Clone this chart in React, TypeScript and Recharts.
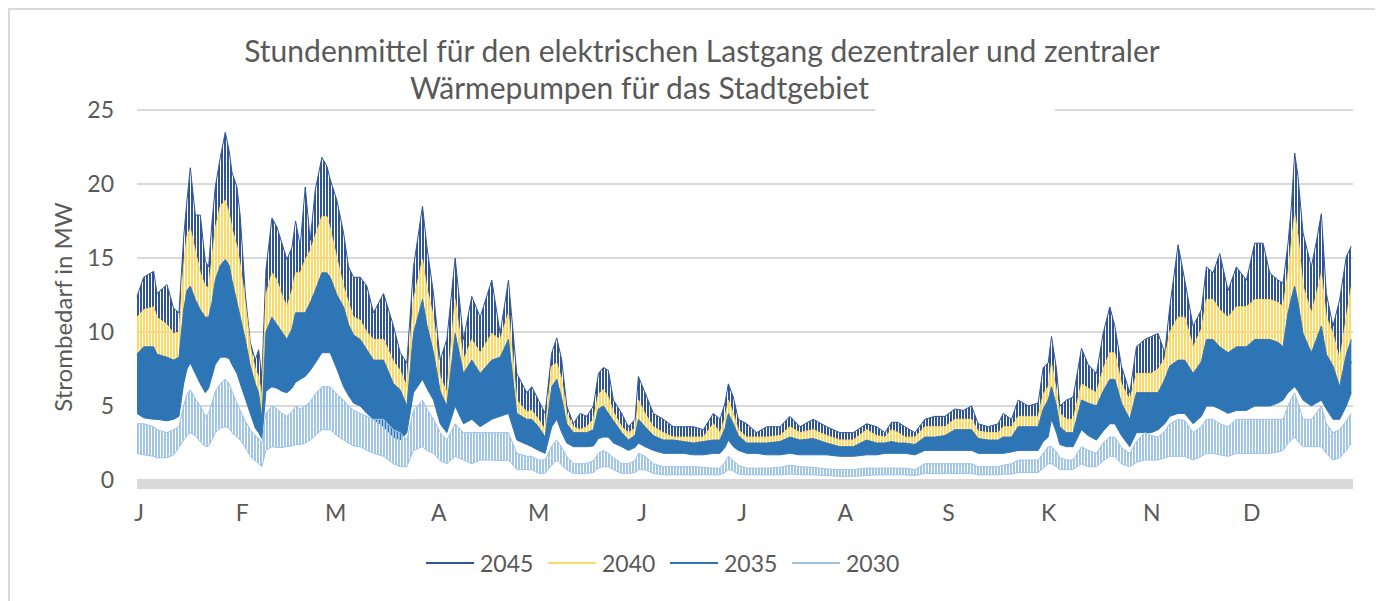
import React from 'react';
import { ComposedChart, Area, XAxis, YAxis, CartesianGrid, Legend } from 'recharts';

// day of year (0 = 1 Jan) at which the envelope was read
const days = [
  0, 2, 5, 6, 9, 11, 12.6, 14, 15, 16,
  17.5, 19, 20.5, 21.5, 22.5, 23.5, 25, 26.5, 27.7, 28.5,
  30, 31, 32.5, 34, 35.5, 36.5, 37.5, 38.7, 40.5, 42,
  43.5, 45, 46.5, 47.6, 49, 50.5, 52, 53.5, 55.5, 57,
  58, 60, 62, 63.5, 65, 67, 69, 71, 74, 77,
  79, 81, 83, 85.7, 87, 89, 91, 93, 95.5, 98,
  100.5, 103, 106.5, 109, 111.5, 114, 117, 118.5, 120.5, 122.5,
  124.5, 126, 127.5, 129, 131, 133, 135, 137, 138.5, 140,
  141.5, 143, 145.5, 147.5, 149.5, 150.5, 152.5, 155, 158, 161,
  164, 167, 170, 173, 175, 176.5, 177.5, 179, 180.5, 183,
  186, 189, 193, 196, 199, 203, 207, 211, 215, 219,
  222, 224.5, 226.5, 228.5, 230.5, 233.5, 236.5, 239.5, 242.5, 245.5,
  248, 250.5, 252.5, 255.5, 258.5, 260, 262.5, 264.5, 267.5, 270.5,
  272, 273.5, 274.5, 276, 277, 279, 281, 283.5, 285.5, 288,
  290, 292, 293.5, 295.5, 298, 300, 302.5, 304.5, 306.5, 308.5,
  310, 312.5, 314.5, 317, 319.5, 321, 323, 325, 327.5, 330,
  333, 335.5, 338, 340, 342.5, 344, 345.5, 346.5, 347.5, 348.5,
  350, 352.5, 354, 355.5, 357, 359, 361, 363, 364.5,
];

// daily peaks / troughs in MW
const hi2045 = [
  12.4, 13.7, 14.1, 12.6, 13.2, 11.6, 11.3, 16.4, 18.9, 21.1,
  17.9, 17.9, 14.8, 14.4, 17.4, 19.8, 21.8, 23.5, 22.2, 20.8,
  19.8, 17.8, 12.6, 9.3, 8.1, 8.8, 7.0, 14.2, 17.7, 17.1,
  16.0, 14.9, 15.7, 17.5, 15.8, 19.8, 16.2, 19.6, 21.8, 21.2,
  20.3, 18.9, 16.7, 14.4, 13.7, 13.7, 13.1, 11.3, 12.6, 10.4,
  8.6, 7.9, 14.4, 18.5, 15.8, 12.6, 8.1, 9.5, 15.0, 9.5,
  12.4, 11.0, 13.5, 9.9, 13.5, 7.2, 5.9, 6.3, 5.4, 4.5,
  8.6, 9.6, 8.1, 5.0, 3.8, 4.5, 4.3, 5.0, 7.2, 7.6,
  7.4, 5.4, 4.5, 3.6, 4.1, 7.0, 5.9, 4.5, 4.1, 3.6,
  3.6, 3.6, 3.4, 4.5, 4.1, 5.2, 6.5, 5.6, 4.1, 3.8,
  3.2, 3.6, 3.6, 4.3, 3.6, 4.1, 3.6, 3.2, 3.2, 3.8,
  3.6, 3.2, 3.9, 3.9, 3.6, 3.2, 4.1, 4.3, 4.3, 4.8,
  4.7, 5.0, 3.8, 3.6, 3.8, 4.5, 4.1, 5.4, 5.0, 5.2,
  7.6, 7.9, 9.7, 7.5, 5.0, 5.4, 5.6, 8.9, 7.8, 7.2,
  9.9, 11.7, 10.4, 7.7, 5.9, 9.0, 9.5, 9.7, 9.9, 8.6,
  11.7, 15.9, 13.5, 10.4, 11.5, 14.4, 14.0, 15.3, 12.8, 14.4,
  13.5, 16.0, 16.0, 14.0, 13.5, 13.3, 16.0, 18.5, 22.1, 20.5,
  16.7, 14.4, 16.1, 18.0, 12.6, 10.4, 12.2, 15.1, 15.8,
];
const lo2045 = [
  6.1, 5.7, 5.5, 5.5, 5.4, 5.5, 5.8, 8.8, 10.1, 10.7,
  9.7, 8.8, 8.0, 8.4, 9.5, 10.5, 11.2, 11.2, 11.1, 10.5,
  9.7, 8.8, 7.4, 6.1, 4.7, 4.3, 3.8, 8.1, 8.5, 8.4,
  8.1, 8.0, 8.4, 8.9, 9.2, 9.5, 10.0, 10.7, 11.6, 11.6,
  11.6, 10.1, 8.5, 7.7, 7.0, 6.8, 6.1, 5.5, 4.9, 3.9,
  3.6, 4.3, 8.0, 9.2, 8.4, 7.3, 5.1, 4.3, 6.8, 5.1,
  5.5, 4.9, 5.5, 5.8, 6.1, 3.6, 3.2, 3.0, 2.7, 2.4,
  4.9, 5.5, 4.3, 3.4, 3.0, 3.0, 3.0, 3.1, 3.8, 3.9,
  3.9, 3.4, 3.0, 2.7, 3.0, 3.4, 3.0, 2.7, 2.4, 2.4,
  2.4, 2.3, 2.3, 2.4, 2.4, 3.0, 3.6, 3.0, 2.7, 2.4,
  2.4, 2.3, 2.3, 2.4, 2.3, 2.3, 2.3, 2.2, 2.2, 2.3,
  2.3, 2.4, 2.4, 2.4, 2.4, 2.3, 2.7, 2.7, 2.7, 2.7,
  2.7, 2.7, 2.4, 2.4, 2.4, 2.4, 2.6, 2.7, 2.7, 2.7,
  3.5, 3.9, 5.5, 4.3, 3.2, 3.0, 3.0, 4.6, 4.1, 3.6,
  4.5, 5.1, 5.1, 4.1, 3.0, 4.3, 4.3, 4.3, 4.6, 5.1,
  5.8, 6.1, 6.1, 5.1, 5.8, 6.8, 6.8, 6.5, 6.1, 6.3,
  6.3, 6.8, 6.8, 6.8, 7.0, 7.3, 8.0, 8.2, 8.5, 8.1,
  7.3, 6.8, 7.0, 7.3, 6.5, 5.5, 5.5, 6.8, 8.0,
];

const hi2040 = [
  11.0, 11.5, 11.7, 11.0, 10.5, 9.9, 10.0, 14.5, 16.5, 17.0,
  15.5, 14.0, 13.1, 13.0, 15.0, 17.0, 18.5, 18.9, 18.0, 17.0,
  15.8, 14.5, 12.0, 9.0, 7.5, 7.0, 5.6, 12.5, 14.0, 13.5,
  12.5, 11.7, 12.8, 14.0, 14.0, 14.9, 15.5, 16.5, 17.8, 17.8,
  17.0, 15.0, 13.1, 12.0, 11.0, 10.8, 10.0, 9.5, 9.5, 8.0,
  7.4, 6.3, 12.2, 14.9, 13.0, 11.0, 7.0, 5.9, 12.2, 8.1,
  9.5, 8.6, 9.9, 9.5, 11.3, 5.4, 4.6, 4.7, 4.1, 3.4,
  7.7, 7.9, 6.8, 4.5, 3.6, 3.4, 3.6, 4.1, 5.8, 6.1,
  5.6, 4.6, 3.6, 3.2, 3.5, 5.4, 4.5, 3.6, 3.2, 2.9,
  2.9, 2.9, 2.9, 3.8, 3.2, 4.2, 5.4, 4.5, 3.4, 2.9,
  2.9, 2.9, 3.0, 3.6, 3.2, 3.4, 3.0, 2.7, 2.7, 3.4,
  3.0, 2.9, 3.4, 3.2, 2.9, 2.9, 3.6, 3.6, 3.6, 4.1,
  4.1, 4.1, 3.3, 3.2, 3.2, 3.6, 3.6, 4.3, 4.3, 4.3,
  5.8, 6.3, 7.9, 6.0, 4.5, 4.1, 4.1, 6.5, 6.2, 5.9,
  7.5, 8.6, 8.6, 6.5, 5.4, 7.2, 7.2, 7.2, 7.5, 8.2,
  10.0, 11.0, 11.0, 9.0, 10.2, 12.2, 12.2, 11.5, 11.0, 11.7,
  11.7, 12.2, 12.2, 12.2, 12.0, 11.7, 14.0, 16.0, 18.0, 16.5,
  13.1, 11.3, 12.5, 14.0, 11.0, 9.9, 8.1, 11.0, 13.1,
];
const lo2040 = [
  5.2, 4.8, 4.7, 4.7, 4.6, 4.7, 4.9, 7.5, 8.6, 9.1,
  8.3, 7.5, 6.8, 7.1, 8.1, 9.0, 9.5, 9.5, 9.4, 9.0,
  8.3, 7.5, 6.3, 5.2, 4.0, 3.7, 3.2, 6.9, 7.2, 7.1,
  6.9, 6.8, 7.1, 7.6, 7.8, 8.1, 8.5, 9.1, 9.9, 9.9,
  9.9, 8.6, 7.2, 6.6, 6.0, 5.8, 5.2, 4.7, 4.1, 3.3,
  3.1, 3.7, 6.8, 7.8, 7.1, 6.2, 4.4, 3.7, 5.8, 4.4,
  4.7, 4.1, 4.7, 4.9, 5.2, 3.1, 2.8, 2.6, 2.3, 2.1,
  4.1, 4.7, 3.7, 2.9, 2.6, 2.6, 2.6, 2.6, 3.2, 3.3,
  3.3, 2.9, 2.6, 2.3, 2.5, 2.9, 2.6, 2.3, 2.1, 2.1,
  2.1, 2.0, 2.0, 2.1, 2.1, 2.5, 3.1, 2.6, 2.3, 2.1,
  2.1, 2.0, 2.0, 2.1, 2.0, 2.0, 2.0, 1.8, 1.8, 2.0,
  2.0, 2.1, 2.1, 2.1, 2.1, 2.0, 2.3, 2.3, 2.3, 2.3,
  2.3, 2.3, 2.1, 2.1, 2.1, 2.1, 2.2, 2.3, 2.3, 2.3,
  3.0, 3.3, 4.7, 3.7, 2.8, 2.6, 2.6, 3.9, 3.5, 3.1,
  3.8, 4.4, 4.4, 3.5, 2.6, 3.7, 3.7, 3.7, 3.9, 4.4,
  4.9, 5.2, 5.2, 4.4, 4.9, 5.8, 5.8, 5.5, 5.2, 5.4,
  5.4, 5.8, 5.8, 5.8, 6.0, 6.2, 6.8, 7.0, 7.2, 6.9,
  6.2, 5.8, 6.0, 6.2, 5.5, 4.7, 4.7, 5.8, 6.8,
];

const hi2035 = [
  8.5, 9.0, 9.0, 8.5, 8.3, 8.1, 8.3, 11.5, 12.8, 13.1,
  12.2, 11.5, 11.0, 11.0, 12.0, 13.5, 14.5, 14.9, 14.5, 13.5,
  12.0, 11.0, 9.5, 7.7, 6.5, 5.9, 4.1, 10.0, 11.0, 10.5,
  10.0, 9.5, 10.2, 11.3, 11.3, 11.3, 12.0, 12.8, 14.0, 14.0,
  13.7, 12.5, 11.7, 10.5, 9.8, 9.5, 8.8, 8.1, 8.1, 6.5,
  6.1, 5.0, 9.9, 12.2, 10.5, 8.6, 6.0, 5.0, 9.9, 7.2,
  8.1, 7.2, 8.1, 8.3, 9.5, 4.5, 4.1, 4.1, 3.6, 2.9,
  6.3, 6.8, 5.5, 3.8, 3.2, 3.2, 3.2, 3.4, 4.8, 5.0,
  4.5, 4.0, 3.2, 2.7, 3.0, 4.1, 3.6, 3.0, 2.7, 2.7,
  2.6, 2.5, 2.6, 2.7, 2.7, 3.5, 4.5, 3.8, 3.0, 2.5,
  2.5, 2.5, 2.6, 2.9, 2.7, 2.8, 2.5, 2.25, 2.25, 2.7,
  2.5, 2.5, 2.6, 2.5, 2.5, 2.4, 2.9, 2.9, 3.0, 3.4,
  3.4, 3.4, 2.8, 2.7, 2.7, 2.9, 2.9, 3.6, 3.6, 3.6,
  4.8, 5.4, 6.3, 5.0, 3.6, 3.2, 3.2, 5.4, 5.2, 5.0,
  6.0, 6.8, 6.8, 5.2, 4.1, 5.9, 5.9, 5.9, 5.9, 6.8,
  7.7, 8.1, 8.1, 7.2, 8.0, 9.5, 9.5, 9.0, 8.6, 9.0,
  9.0, 9.5, 9.5, 9.5, 9.3, 9.0, 11.3, 12.3, 13.1, 12.0,
  9.9, 8.6, 9.5, 10.4, 8.5, 7.7, 6.3, 8.5, 9.5,
];
const lo2035 = [
  4.5, 4.2, 4.1, 4.1, 4.0, 4.1, 4.3, 6.5, 7.5, 7.9,
  7.2, 6.5, 5.9, 6.2, 7.0, 7.8, 8.3, 8.3, 8.2, 7.8,
  7.2, 6.5, 5.5, 4.5, 3.5, 3.2, 2.8, 6.0, 6.3, 6.2,
  6.0, 5.9, 6.2, 6.6, 6.8, 7.0, 7.4, 7.9, 8.6, 8.6,
  8.6, 7.5, 6.3, 5.7, 5.2, 5.0, 4.5, 4.1, 3.6, 2.9,
  2.7, 3.2, 5.9, 6.8, 6.2, 5.4, 3.8, 3.2, 5.0, 3.8,
  4.1, 3.6, 4.1, 4.3, 4.5, 2.7, 2.4, 2.25, 2.0, 1.8,
  3.6, 4.1, 3.2, 2.5, 2.25, 2.25, 2.25, 2.3, 2.8, 2.9,
  2.9, 2.5, 2.25, 2.0, 2.2, 2.5, 2.25, 2.0, 1.8, 1.8,
  1.8, 1.7, 1.7, 1.8, 1.8, 2.2, 2.7, 2.25, 2.0, 1.8,
  1.8, 1.7, 1.7, 1.8, 1.7, 1.7, 1.7, 1.6, 1.6, 1.7,
  1.7, 1.8, 1.8, 1.8, 1.8, 1.7, 2.0, 2.0, 2.0, 2.0,
  2.0, 2.0, 1.8, 1.8, 1.8, 1.8, 1.9, 2.0, 2.0, 2.0,
  2.6, 2.9, 4.1, 3.2, 2.4, 2.25, 2.25, 3.4, 3.0, 2.7,
  3.3, 3.8, 3.8, 3.0, 2.25, 3.2, 3.2, 3.2, 3.4, 3.8,
  4.3, 4.5, 4.5, 3.8, 4.3, 5.0, 5.0, 4.8, 4.5, 4.7,
  4.7, 5.0, 5.0, 5.0, 5.2, 5.4, 5.9, 6.1, 6.3, 6.0,
  5.4, 5.0, 5.2, 5.4, 4.8, 4.1, 4.1, 5.0, 5.9,
];

const hi2030 = [
  3.8, 3.8, 3.6, 3.4, 3.2, 3.4, 3.6, 5.0, 5.8, 6.1,
  5.5, 5.0, 4.3, 4.5, 5.2, 6.0, 6.5, 6.8, 6.5, 6.0,
  5.2, 4.7, 4.0, 3.4, 3.0, 2.8, 2.5, 4.5, 5.0, 4.8,
  4.5, 4.3, 4.6, 5.0, 4.8, 5.0, 5.3, 5.8, 6.3, 6.3,
  6.3, 5.8, 5.4, 5.0, 4.7, 4.5, 4.3, 4.1, 4.1, 3.4,
  3.2, 2.7, 4.7, 5.4, 4.8, 4.1, 3.2, 2.7, 3.8, 3.2,
  3.2, 3.2, 3.2, 3.2, 3.2, 1.8, 1.6, 1.6, 1.35, 1.35,
  2.3, 2.7, 2.2, 1.6, 1.1, 1.1, 1.1, 1.3, 1.8, 2.0,
  1.8, 1.5, 1.1, 1.1, 1.3, 1.8, 1.6, 1.1, 0.9, 0.9,
  0.9, 0.9, 0.85, 0.8, 0.8, 1.2, 1.6, 1.3, 1.0, 0.8,
  0.8, 0.8, 0.85, 1.0, 0.9, 0.85, 0.75, 0.7, 0.7, 0.8,
  0.8, 0.8, 0.8, 0.8, 0.8, 0.7, 1.1, 1.1, 1.1, 1.1,
  1.1, 1.1, 0.9, 0.9, 0.9, 1.0, 1.1, 1.35, 1.35, 1.35,
  1.8, 2.25, 2.25, 1.9, 1.5, 1.35, 1.35, 2.25, 2.0, 1.8,
  2.5, 2.9, 2.9, 2.2, 1.8, 2.6, 3.2, 3.0, 2.9, 3.3,
  3.8, 4.1, 4.0, 3.2, 3.6, 4.1, 4.1, 3.8, 3.6, 4.1,
  4.1, 4.1, 4.1, 4.1, 4.1, 4.1, 5.0, 5.5, 5.9, 5.2,
  4.1, 4.1, 4.5, 5.0, 3.8, 3.2, 3.4, 4.0, 4.5,
];
const lo2030 = [
  1.8, 1.7, 1.6, 1.5, 1.5, 1.7, 2.2, 2.7, 3.0, 3.2,
  3.0, 2.6, 2.25, 2.3, 2.7, 3.2, 3.5, 3.6, 3.5, 3.2,
  2.9, 2.7, 2.2, 1.6, 1.3, 1.1, 0.9, 2.0, 2.25, 2.2,
  2.2, 2.25, 2.3, 2.4, 2.4, 2.5, 2.7, 3.0, 3.4, 3.4,
  3.4, 3.0, 2.7, 2.5, 2.3, 2.25, 2.0, 1.8, 1.6, 1.1,
  0.9, 0.9, 2.0, 2.25, 2.0, 1.8, 1.3, 1.1, 1.6, 1.35,
  1.1, 1.35, 1.35, 1.3, 1.35, 0.7, 0.7, 0.7, 0.45, 0.45,
  1.0, 1.35, 1.0, 0.7, 0.45, 0.45, 0.45, 0.5, 0.8, 0.9,
  0.9, 0.7, 0.45, 0.45, 0.5, 0.7, 0.7, 0.45, 0.35, 0.35,
  0.35, 0.35, 0.35, 0.35, 0.35, 0.5, 0.7, 0.6, 0.4, 0.35,
  0.35, 0.35, 0.35, 0.4, 0.35, 0.35, 0.3, 0.25, 0.25, 0.3,
  0.35, 0.35, 0.35, 0.35, 0.35, 0.3, 0.45, 0.45, 0.45, 0.45,
  0.45, 0.45, 0.35, 0.35, 0.35, 0.4, 0.4, 0.5, 0.5, 0.5,
  0.8, 1.1, 1.1, 0.9, 0.7, 0.7, 0.7, 1.1, 0.9, 0.9,
  1.3, 1.6, 1.6, 1.1, 0.9, 1.2, 1.35, 1.35, 1.35, 1.5,
  1.6, 1.6, 1.6, 1.35, 1.6, 1.8, 1.8, 1.7, 1.6, 1.8,
  1.8, 1.8, 1.8, 1.8, 1.9, 2.0, 2.5, 2.7, 2.9, 2.6,
  2.25, 2.25, 2.25, 2.25, 1.8, 1.35, 1.5, 2.0, 2.5,
];

const monthTicks = [0, 31, 59, 90, 120, 151, 181, 212, 243, 273, 304, 334];
const monthLabels = ['J', 'F', 'M', 'A', 'M', 'J', 'J', 'A', 'S', 'K', 'N', 'D'];
const yTicks = [0, 5, 10, 15, 20, 25];

// stripe = painted share of each 3px column (the rest lets the layer below show)
const series = [
  { key: 'r2045', name: '2045', color: '#2f5597', stripe: 2 },
  { key: 'r2040', name: '2040', color: '#ffd966', stripe: 2 },
  { key: 'r2035', name: '2035', color: '#2e75b6', stripe: 3 },
  { key: 'r2030', name: '2030', color: '#9dc3e6', stripe: 1.9 },
];

const data = days.map((day, i) => ({
  day,
  r2045: [lo2045[i], hi2045[i]],
  r2040: [lo2040[i], hi2040[i]],
  r2035: [lo2035[i], hi2035[i]],
  r2030: [lo2030[i], hi2030[i]],
}));

const FONT = 'Lato, "Open Sans", sans-serif';
const GREY = '#595959';

function LegendContent() {
  return (
    <div style={{ display: 'flex', alignItems: 'center', height: 36, fontFamily: FONT, fontSize: 23, color: GREY }}>
      {series.map((s) => (
        <div key={s.key} style={{ display: 'flex', alignItems: 'center', width: 122 }}>
          <span style={{ display: 'inline-block', width: 48, height: 2, background: s.color, marginRight: 6 }} />
          <span>{s.name}</span>
        </div>
      ))}
    </div>
  );
}

export default function App() {
  return (
    <div style={{ position: 'relative', width: 1375, height: 593, overflow: 'hidden', fontFamily: FONT }}>
      <div
        style={{
          position: 'absolute', left: 0, top: 0, width: 2000, height: 2000,
          borderLeft: '2px solid #d9d9d9', borderTop: '2px solid #d9d9d9',
        }}
      />
      <ComposedChart
        width={1375}
        height={593}
        data={data}
        margin={{ top: 102, right: 30, bottom: 20, left: 0 }}
      >
        <defs>
          {series.map((s) => (
            <pattern key={s.key} id={`stripe-${s.key}`} width={3} height={4} patternUnits="userSpaceOnUse">
              <rect x={0} y={0} width={s.stripe} height={4} fill={s.color} />
            </pattern>
          ))}
        </defs>
        <CartesianGrid vertical={false} stroke="#d9d9d9" strokeWidth={2} />
        <XAxis
          dataKey="day"
          type="number"
          domain={[0, 365]}
          ticks={monthTicks}
          interval={0}
          height={65}
          tickLine={false}
          tickSize={0}
          tickMargin={25}
          tickFormatter={(v) => monthLabels[monthTicks.indexOf(v)]}
          tick={{ fill: GREY, fontSize: 23, fontFamily: FONT, dx: 2 }}
          axisLine={{ stroke: '#d9d9d9', strokeWidth: 9, transform: 'translate(0,4.5)' }}
        />
        <YAxis
          domain={[0, 25]}
          ticks={yTicks}
          width={129}
          axisLine={false}
          tickLine={false}
          tickSize={0}
          tickMargin={23}
          tick={{ fill: GREY, fontSize: 23, fontFamily: FONT }}
        />
        {series.map((s) => (
          <Area
            key={s.key}
            type="linear"
            dataKey={s.key}
            name={s.name}
            stroke={s.color}
            strokeWidth={1}
            fill={`url(#stripe-${s.key})`}
            fillOpacity={1}
            dot={false}
            activeDot={false}
            isAnimationActive={false}
          />
        ))}
        <Legend
          verticalAlign="bottom"
          height={36}
          content={() => <LegendContent />}
          wrapperStyle={{ left: 418, width: 520 }}
        />
      </ComposedChart>
      <svg
        width={1375}
        height={593}
        style={{ position: 'absolute', left: 0, top: 0, pointerEvents: 'none' }}
      >
        <rect x={867} y={70} width={180} height={35} fill="#ffffff" />
        <text x={694} y={54} textAnchor="middle" fontFamily={FONT} fontSize={30} fill={GREY}>
          Stundenmittel für den elektrischen Lastgang dezentraler und zentraler
        </text>
        <text x={861} y={91} textAnchor="end" fontFamily={FONT} fontSize={30} fill={GREY}>
          Wärmepumpen für das Stadtgebiet
        </text>
        <text
          x={54}
          y={299}
          textAnchor="middle"
          dominantBaseline="central"
          transform="rotate(-90 54 299)"
          fontFamily={FONT}
          fontSize={24}
          fill={GREY}
        >
          Strombedarf in MW
        </text>
      </svg>
    </div>
  );
}
